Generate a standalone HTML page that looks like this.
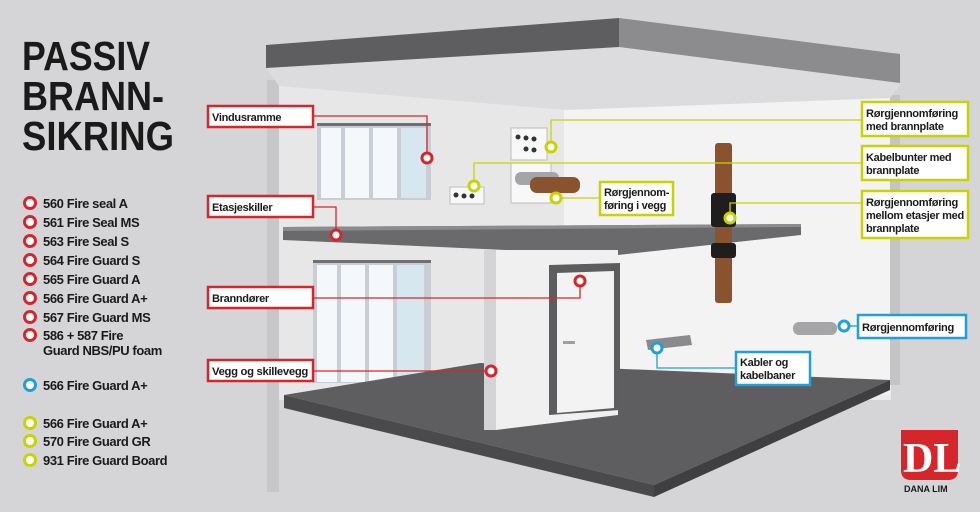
<!DOCTYPE html>
<html><head><meta charset="utf-8"><style>
body{margin:0;background:#d5d5d7;}
svg{display:block;font-family:"Liberation Sans",sans-serif;}
.lg{font-size:13px;font-weight:bold;fill:#1a1a1a;letter-spacing:-0.4px;}
.lb{font-size:11px;font-weight:bold;fill:#1a1a1a;letter-spacing:-0.3px;}
</style></head><body>
<svg width="980" height="512" viewBox="0 0 980 512">
<rect width="980" height="512" fill="#d5d5d7"/>
<!-- title -->
<text x="22" y="70" font-size="41" font-weight="bold" fill="#1a1a1a" textLength="128" lengthAdjust="spacingAndGlyphs">PASSIV</text>
<text x="22" y="110" font-size="41" font-weight="bold" fill="#1a1a1a" textLength="142" lengthAdjust="spacingAndGlyphs">BRANN-</text>
<text x="22" y="150" font-size="41" font-weight="bold" fill="#1a1a1a" textLength="152" lengthAdjust="spacingAndGlyphs">SIKRING</text>
<!-- legend -->
<g fill="#fff" stroke-width="3">
<circle cx="30" cy="203" r="5.5" stroke="#d7262b"/><circle cx="30" cy="222" r="5.5" stroke="#d7262b"/>
<circle cx="30" cy="241" r="5.5" stroke="#d7262b"/><circle cx="30" cy="260" r="5.5" stroke="#d7262b"/>
<circle cx="30" cy="279" r="5.5" stroke="#d7262b"/><circle cx="30" cy="298" r="5.5" stroke="#d7262b"/>
<circle cx="30" cy="317" r="5.5" stroke="#d7262b"/><circle cx="30" cy="335" r="5.5" stroke="#d7262b"/>
<circle cx="30" cy="385" r="5.5" stroke="#1ea0dc"/>
<circle cx="30" cy="423" r="5.5" stroke="#c8d400"/><circle cx="30" cy="441" r="5.5" stroke="#c8d400"/>
<circle cx="30" cy="460" r="5.5" stroke="#c8d400"/>
</g>
<g class="lg">
<text x="43" y="208">560 Fire seal A</text><text x="43" y="227">561 Fire Seal MS</text>
<text x="43" y="246">563 Fire Seal S</text><text x="43" y="265">564 Fire Guard S</text>
<text x="43" y="284">565 Fire Guard A</text><text x="43" y="303">566 Fire Guard A+</text>
<text x="43" y="322">567 Fire Guard MS</text><text x="43" y="340">586 + 587 Fire</text>
<text x="43" y="355">Guard NBS/PU foam</text>
<text x="43" y="390">566 Fire Guard A+</text>
<text x="43" y="428">566 Fire Guard A+</text><text x="43" y="446">570 Fire Guard GR</text>
<text x="43" y="465">931 Fire Guard Board</text>
</g>
<!-- walls -->
<rect x="279" y="80" width="612" height="320" fill="#ebebec"/>
<rect x="564" y="95" width="326" height="300" fill="#f3f3f3"/>
<rect x="279" y="80" width="285" height="320" fill="#e7e7e8"/>
<rect x="267" y="80" width="12" height="412" fill="#c7c7c9"/>
<rect x="890" y="95" width="10" height="290" fill="#c4c4c6"/>
<!-- ceiling -->
<polygon points="266,68 619,47 902,83 890,98 566,110 279,86" fill="#dcdcde"/>
<polygon points="266,45 619,18 619,47 266,68" fill="#5e5e60"/>
<polygon points="619,18 900,54 900,83 619,47" fill="#8c8c8e"/>
<!-- windows -->
<rect x="317" y="123" width="114" height="77" fill="#c9ced4"/>
<rect x="317" y="123" width="114" height="3" fill="#707072"/>
<g fill="#f4f8fb"><rect x="321" y="128" width="20" height="70"/><rect x="345" y="128" width="24" height="70"/><rect x="373" y="128" width="24" height="70"/></g>
<rect x="401" y="128" width="25" height="70" fill="#d6e7f0"/>
<rect x="313" y="260" width="118" height="123" fill="#c9ced4"/>
<rect x="313" y="260" width="118" height="3" fill="#707072"/>
<g fill="#f4f8fb"><rect x="317" y="265" width="20" height="117"/><rect x="341" y="265" width="24" height="117"/><rect x="369" y="265" width="24" height="117"/></g>
<rect x="397" y="265" width="27" height="117" fill="#d6e7f0"/>
<!-- slab -->
<polygon points="283,227 801,224 801,235 618,255 283,240" fill="#6a6a6c"/>
<polygon points="283,227 801,224 801,227 283,231" fill="#8c8c8e"/>
<!-- floor -->
<polygon points="284,395 480,363 890,380 654,485" fill="#5e5e60"/>
<polygon points="284,395 654,485 654,497 284,408" fill="#4a4a4c"/>
<polygon points="654,485 890,380 890,390 654,497" fill="#3f3f41"/>
<!-- column & partition -->
<rect x="484" y="250" width="12" height="180" fill="#d4d4d6"/>
<polygon points="496,250 618,250 618,415 496,430" fill="#f0f0f0"/>
<polygon points="549,265 620,263 620,410 549,415" fill="#5d5d5f"/>
<polygon points="557,273 614,271 614,408 557,413" fill="#f3f3f3"/>
<rect x="563" y="341" width="12" height="3" fill="#a0a0a0"/>
<!-- wall boxes -->
<g fill="#f8f8f8" stroke="#bdbdbd"><rect x="511" y="128" width="36" height="32"/><rect x="450" y="187" width="34" height="17"/><rect x="511" y="163" width="40" height="40"/></g>
<g fill="#333"><circle cx="518" cy="137" r="2.5"/><circle cx="526" cy="138" r="2.5"/><circle cx="534" cy="139" r="2.5"/><circle cx="526" cy="149" r="2.5"/><circle cx="534" cy="150" r="2.5"/>
<circle cx="456" cy="195" r="2.5"/><circle cx="464" cy="196" r="2.5"/><circle cx="472" cy="196" r="2.5"/></g>
<rect x="515" y="172" width="44" height="13" rx="6" fill="#a5a5a7"/>
<rect x="530" y="177" width="50" height="16" rx="7" fill="#8a5330"/>
<!-- vertical pipe -->
<rect x="715" y="143" width="17" height="160" rx="3" fill="#8a5330"/>
<rect x="711" y="193" width="25" height="34" rx="3" fill="#1e1e1e"/>
<rect x="711" y="243" width="25" height="15" rx="3" fill="#1e1e1e"/>
<!-- small parts -->
<rect x="793" y="322" width="44" height="13" rx="6" fill="#a5a5a7"/>
<polygon points="646,340 690,335 692,345 648,350" fill="#8a8a8c"/>
<!-- connector lines -->
<g fill="none" stroke-width="1.3">
<polyline points="313,116 427,116 427,158" stroke="#d7262b"/>
<polyline points="313,207 336,207 336,235" stroke="#d7262b"/>
<polyline points="313,298 580,298 580,281" stroke="#d7262b"/>
<polyline points="313,371 491,371" stroke="#d7262b"/>
<polyline points="551,147 551,120 862,120" stroke="#c8d400"/>
<polyline points="474,186 474,163 862,163" stroke="#c8d400"/>
<polyline points="556,198 600,198" stroke="#c8d400"/>
<polyline points="730,218 730,203 862,203" stroke="#c8d400"/>
<polyline points="844,326 858,326" stroke="#1ea0dc"/>
<polyline points="657,348 657,368 736,368" stroke="#1ea0dc"/>
</g>
<g fill="#fff" stroke-width="3">
<circle cx="427" cy="158" r="5" stroke="#d7262b"/><circle cx="336" cy="235" r="5" stroke="#d7262b"/>
<circle cx="580" cy="281" r="5" stroke="#d7262b"/><circle cx="491" cy="371" r="5" stroke="#d7262b"/>
<circle cx="551" cy="147" r="5" stroke="#c8d400"/><circle cx="474" cy="186" r="5" stroke="#c8d400"/>
<circle cx="556" cy="198" r="5" stroke="#c8d400"/><circle cx="730" cy="218" r="5" stroke="#c8d400"/>
<circle cx="844" cy="326" r="5" stroke="#1ea0dc"/><circle cx="657" cy="348" r="5" stroke="#1ea0dc"/>
</g>
<!-- label boxes -->
<g fill="#fff" stroke-width="2.5">
<rect x="208" y="106" width="105" height="21" stroke="#d7262b"/>
<rect x="208" y="196" width="105" height="21" stroke="#d7262b"/>
<rect x="208" y="287" width="105" height="21" stroke="#d7262b"/>
<rect x="208" y="360" width="105" height="21" stroke="#d7262b"/>
<rect x="862" y="102" width="106" height="34" stroke="#c8d400"/>
<rect x="862" y="146" width="106" height="34" stroke="#c8d400"/>
<rect x="862" y="191" width="106" height="47" stroke="#c8d400"/>
<rect x="600" y="182" width="73" height="33" stroke="#c8d400"/>
<rect x="858" y="315" width="108" height="23" stroke="#1ea0dc"/>
<rect x="736" y="352" width="74" height="33" stroke="#1ea0dc"/>
</g>
<g class="lb">
<text x="212" y="121">Vindusramme</text>
<text x="212" y="211">Etasjeskiller</text>
<text x="212" y="302">Branndører</text>
<text x="212" y="375" textLength="96" lengthAdjust="spacingAndGlyphs">Vegg og skillevegg</text>
<text x="866" y="117" textLength="92" lengthAdjust="spacingAndGlyphs">Rørgjennomføring</text><text x="866" y="130">med brannplate</text>
<text x="866" y="161">Kabelbunter med</text><text x="866" y="174">brannplate</text>
<text x="866" y="206" textLength="92" lengthAdjust="spacingAndGlyphs">Rørgjennomføring</text><text x="866" y="219" textLength="98" lengthAdjust="spacingAndGlyphs">mellom etasjer med</text><text x="866" y="232">brannplate</text>
<text x="604" y="196">Rørgjennom-</text><text x="604" y="209">føring i vegg</text>
<text x="862" y="331" textLength="92" lengthAdjust="spacingAndGlyphs">Rørgjennomføring</text>
<text x="740" y="366">Kabler og</text><text x="740" y="379">kabelbaner</text>
</g>
<!-- logo -->
<path d="M901,430 H958 V470 Q958,480 948,480 H911 Q901,480 901,470 Z" fill="#d7262b"/>
<text x="903" y="472" font-family="Liberation Serif,serif" font-size="42" font-weight="bold" fill="#fff">DL</text>
<text x="904" y="492" font-size="9" font-weight="bold" fill="#1a1a1a">DANA LIM</text>
</svg>
</body></html>
